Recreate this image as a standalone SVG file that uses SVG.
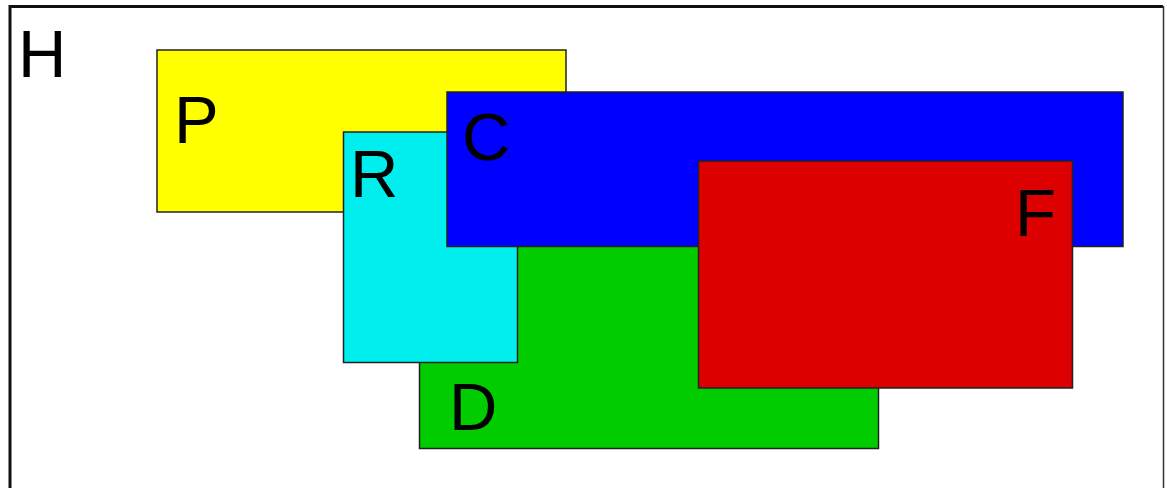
<svg xmlns="http://www.w3.org/2000/svg" width="1167" height="488" viewBox="0 0 1167 488">
<style>
.box{stroke:#222;stroke-width:1.5}
.lbl{font-family:"Liberation Sans",Arial,sans-serif;font-size:67px;fill:#000}
</style>
<rect width="1167" height="488" fill="#fff"/>
<g id="H">
<path d="M10,488 V6.5 H1163" fill="none" stroke="#111" stroke-width="3"/>
<path d="M1163.5,6 V488" fill="none" stroke="#333" stroke-width="1.5"/>
<text class="lbl" x="18" y="77">H</text>
</g>
<g id="P">
<rect class="box" x="157" y="50" width="409" height="162" fill="#ffff00"/>
<text class="lbl" x="174" y="143">P</text>
</g>
<g id="D">
<rect class="box" x="419.5" y="230" width="459" height="218.5" fill="#00cc00"/>
<text class="lbl" x="449" y="430">D</text>
</g>
<g id="R">
<rect class="box" x="343.5" y="132" width="174" height="230.5" fill="#00eeee"/>
<text class="lbl" x="350" y="197">R</text>
</g>
<g id="C">
<rect class="box" x="447" y="92" width="676" height="154.5" fill="#0000ff"/>
<text class="lbl" x="462" y="160">C</text>
</g>
<g id="F">
<rect class="box" x="698.5" y="161" width="374" height="227" fill="#dd0000"/>
<text class="lbl" x="1015" y="236">F</text>
</g>
<g id="connectors"/>
</svg>
